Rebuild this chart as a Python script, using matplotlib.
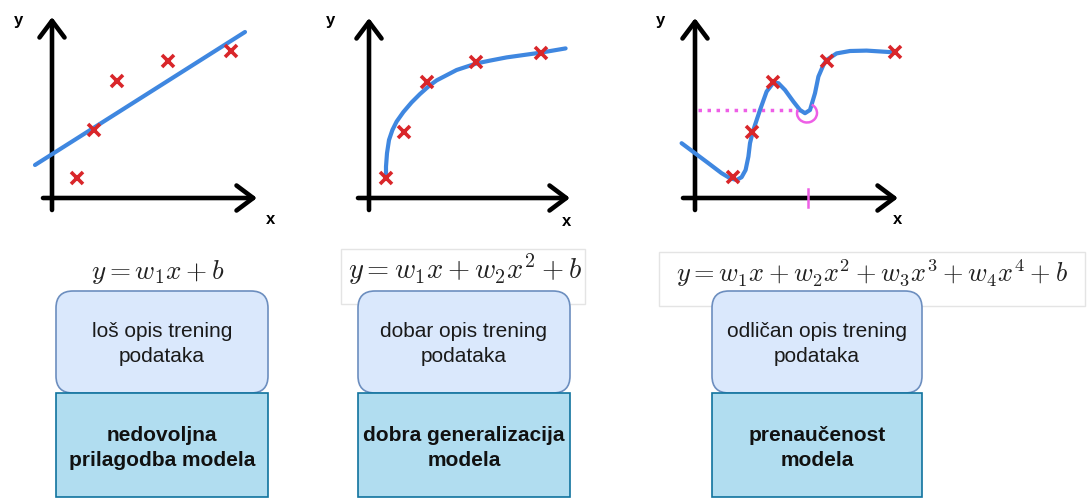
import matplotlib
matplotlib.use("Agg")
import matplotlib.pyplot as plt
from matplotlib.patches import FancyBboxPatch, Rectangle, Arc

plt.rcParams['font.family'] = ['Liberation Sans', 'DejaVu Sans']
plt.rcParams['mathtext.fontset'] = 'cm'

W, H = 1088, 500
PX = 20.0  # pixels per data unit inside the small plots

# panel 1 - linear fit (underfit)
p1_x = [1.25, 2.1, 3.25, 5.8, 8.95]
p1_y = [1.0, 3.4, 5.85, 6.85, 7.35]
p1_line_x = [-0.85, 9.65]
p1_line_y = [1.65, 8.3]

# panel 2 - good fit
p2_x = [0.85, 1.75, 2.88, 5.35, 8.6]
p2_y = [1.0, 3.32, 5.82, 6.78, 7.25]
p2_curve_x = [0.85, 0.85, 0.9, 1.0, 1.17, 1.38, 1.72, 2.13, 2.55, 3.0, 3.38, 4.38, 5.38,
              6.05, 6.88, 8.6, 9.83]
p2_curve_y = [1.07, 1.57, 2.24, 2.9, 3.4, 3.82, 4.3, 4.78, 5.2, 5.6, 5.88, 6.4, 6.73,
              6.87, 7.03, 7.27, 7.48]

# panel 3 - overfit
p3_x = [1.92, 2.83, 3.92, 6.58, 10.0]
p3_y = [1.04, 3.32, 5.82, 6.87, 7.28]
p3_curve_x = [-0.67, 0.0, 0.67, 1.33, 1.75, 2.08, 2.33, 2.53, 2.67, 2.75, 2.87, 3.0, 3.25,
              3.58, 3.92, 4.17, 4.5, 4.92, 5.25, 5.5, 5.75, 6.0, 6.17, 6.42, 6.58, 7.08,
              7.75, 8.58, 10.0]
p3_curve_y = [2.74, 2.24, 1.74, 1.24, 0.99, 0.9, 1.04, 1.4, 2.07, 2.74, 3.24, 3.65, 4.4,
              5.32, 5.77, 5.74, 5.4, 4.82, 4.4, 4.24, 4.4, 5.24, 6.07, 6.65, 6.9, 7.23,
              7.35, 7.37, 7.28]
p3_query_x = 5.6
p3_query_y = 4.4

# pixel origins of the three small plots and their axis extents (data units)
origins = [(52, 198), (369, 198), (695, 198)]
x_ends = [(-0.45, 10.25), (-0.55, 10.05), (-0.6, 10.15)]
y_ends = [(-0.6, 9.05), (-0.6, 9.0), (-0.6, 9.0)]
ylab_pos = [(-1.7, 8.85), (-1.95, 8.9), (-1.75, 8.9)]
xlab_pos = [(10.95, -1.1), (9.9, -1.15), (10.15, -1.1)]

formulas = [r'$y = w_1x + b$',
            r'$y = w_1x + w_2x^2 + b$',
            r'$y = w_1x + w_2x^2 + w_3x^3 + w_4x^4 + b$']
formula_pos = [(158, 272), (465, 270), (872, 273)]
formula_size = [19.5, 20.5, 19]
formula_boxes = [None, (341, 249, 585, 304), (659, 252, 1085, 306)]

descr = ['loš opis trening\npodataka', 'dobar opis trening\npodataka',
         'odličan opis trening\npodataka']
verdict = ['nedovoljna\nprilagodba modela', 'dobra generalizacija\nmodela',
           'prenaučenost\nmodela']
box_x = [(56, 268), (358, 570), (712, 922)]

BLUE = '#3f87e0'
RED = '#d9262a'
MAGENTA = '#ee5fe6'

fig = plt.figure(figsize=(W / 100, H / 100), dpi=100)
main = fig.add_axes([0, 0, 1, 1])
main.set_xlim(0, W)
main.set_ylim(H, 0)
main.axis('off')

# bottom part: formulas and boxes
for i in range(3):
    fb = formula_boxes[i]
    if fb is not None:
        main.add_patch(Rectangle((fb[0], fb[1]), fb[2] - fb[0], fb[3] - fb[1],
                                 facecolor='white', edgecolor='#e4e4e4', lw=1))
    main.text(formula_pos[i][0], formula_pos[i][1], formulas[i], fontsize=formula_size[i],
              ha='center', va='center', color='#222222')
    x0, x1 = box_x[i]
    main.add_patch(FancyBboxPatch((x0, 291), x1 - x0, 102,
                                  boxstyle='round,pad=0,rounding_size=17',
                                  facecolor='#dae8fc', edgecolor='#6c8ebf', lw=1.2))
    main.add_patch(Rectangle((x0, 393), x1 - x0, 104,
                             facecolor='#b1ddf0', edgecolor='#10739e', lw=1.2))
    xc = (x0 + x1) / 2
    # va='baseline' on multi-line text pins the last line's baseline
    main.text(xc, 362, descr[i], fontsize=15, ha='center', va='baseline',
              linespacing=1.4, color='#1a1a1a')
    main.text(xc, 466, verdict[i], fontsize=15, ha='center', va='baseline',
              fontweight='bold', linespacing=1.4, color='#111111')

# top part: the three small plots
xmin, xmax = -2.6, 11.6
ymin, ymax = -1.8, 9.6
axs = []
for i, (ox, oy) in enumerate(origins):
    left = ox + xmin * PX
    bottom = H - (oy - ymin * PX)
    ax = fig.add_axes([left / W, bottom / H, (xmax - xmin) * PX / W, (ymax - ymin) * PX / H])
    ax.set_xlim(xmin, xmax)
    ax.set_ylim(ymin, ymax)
    ax.axis('off')
    ax.patch.set_alpha(0)
    arrow = dict(arrowstyle='->,head_length=0.6,head_width=0.45', lw=3.3,
                 color='black', shrinkA=0, shrinkB=0, mutation_scale=20)
    ax.annotate('', xy=(x_ends[i][1], 0), xytext=(x_ends[i][0], 0), arrowprops=arrow)
    ax.annotate('', xy=(0, y_ends[i][1]), xytext=(0, y_ends[i][0]), arrowprops=arrow)
    ax.text(*ylab_pos[i], 'y', fontsize=12, fontweight='bold', ha='center', va='center')
    ax.text(*xlab_pos[i], 'x', fontsize=12, fontweight='bold', ha='center', va='center')
    axs.append(ax)

axs[0].plot(p1_line_x, p1_line_y, color=BLUE, lw=3, solid_capstyle='round', zorder=3)
axs[0].plot(p1_x, p1_y, 'x', color=RED, ms=9, mew=2.6, zorder=4)

axs[1].plot(p2_curve_x, p2_curve_y, color=BLUE, lw=3, solid_capstyle='round',
            solid_joinstyle='round', zorder=3)
axs[1].plot(p2_x, p2_y, 'x', color=RED, ms=9, mew=2.6, zorder=4)

ax3 = axs[2]
ax3.plot([0.15, p3_query_x - 0.3], [p3_query_y, p3_query_y], color=MAGENTA, lw=2.5,
         ls=(0, (1, 1.6)), zorder=2)
ax3.plot(p3_curve_x, p3_curve_y, color=BLUE, lw=3, solid_capstyle='round',
         solid_joinstyle='round', zorder=3)
ax3.add_patch(Arc((p3_query_x, p3_query_y - 0.15), 1.0, 0.95, theta1=160, theta2=420,
                  color=MAGENTA, lw=1.8, zorder=4))
ax3.plot([p3_query_x + 0.03, p3_query_x + 0.03], [-0.45, 0.45], color=MAGENTA, lw=1.8,
         zorder=4)
ax3.plot(p3_x, p3_y, 'x', color=RED, ms=9, mew=2.6, zorder=5)

fig.savefig('out.png', dpi=100)
